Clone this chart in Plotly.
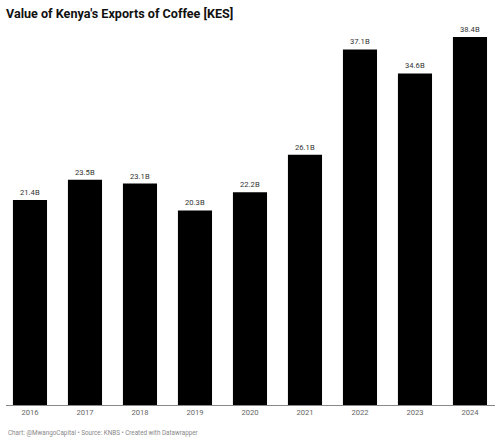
import plotly.graph_objects as go

years = ["2016", "2017", "2018", "2019", "2020", "2021", "2022", "2023", "2024"]
values = [21.4, 23.5, 23.1, 20.3, 22.2, 26.1, 37.1, 34.6, 38.4]
labels = ["21.4B", "23.5B", "23.1B", "20.3B", "22.2B", "26.1B", "37.1B", "34.6B", "38.4B"]

fig = go.Figure(go.Bar(
    x=years, y=values, text=labels, textposition="outside",
    textfont=dict(family="Roboto", size=7.6, color="#333333"),
    marker=dict(color="#000000", line=dict(width=0)),
    width=0.62, cliponaxis=False, hoverinfo="skip",
))

fig.update_layout(
    width=500, height=443,
    margin=dict(l=6, r=5, t=37, b=38),
    paper_bgcolor="white", plot_bgcolor="white",
    font=dict(family="Roboto", color="#333333"),
    showlegend=False,
    title=dict(text="<b>Value of Kenya's Exports of Coffee [KES]</b>",
               x=0.012, xanchor="left", y=1 - 14 / 443, yanchor="middle",
               font=dict(family="Roboto", size=12.6, color="#111111")),
    xaxis=dict(type="category", range=[-0.436, 8.455], showgrid=False,
               showline=True, linecolor="#888888", linewidth=1,
               ticks="", tickfont=dict(family="Roboto", size=7.6, color="#666666"),
               fixedrange=True),
    yaxis=dict(range=[0, 38.4], visible=False, showgrid=False, zeroline=False,
               fixedrange=True),
    annotations=[dict(
        text="Chart: @MwangoCapital • Source: KNBS • Created with Datawrapper",
        xref="paper", yref="paper", x=0, y=0, xanchor="left", yanchor="middle",
        yshift=-28, showarrow=False,
        font=dict(family="Roboto", size=6.3, color="#888888"))],
)

fig.write_html("out.html", config={"displayModeBar": False, "staticPlot": True})

with open("out.html", "r", encoding="utf-8") as f:
    html = f.read()
html = html.replace("<body>", '<body style="margin:0;padding:0;">', 1)
with open("out.html", "w", encoding="utf-8") as f:
    f.write(html)
